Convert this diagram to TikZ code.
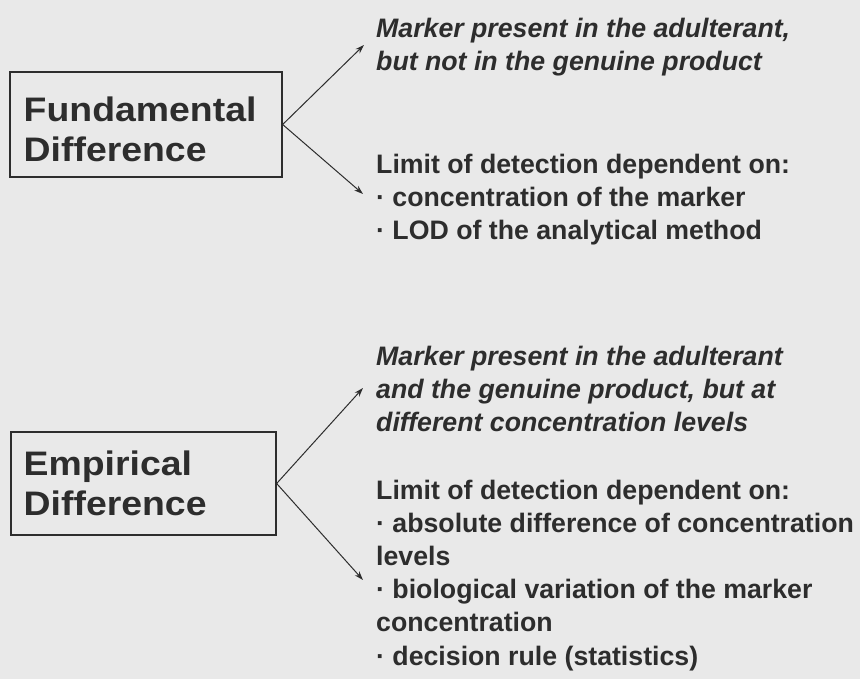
\documentclass[tikz,border=0pt]{standalone}
\usepackage{fontspec}
\usetikzlibrary{arrows.meta}
\setmainfont{Liberation Sans}
\newfontfamily\boxfont[FakeStretch=1.1]{Liberation Sans}
\definecolor{paper}{RGB}{233,233,233}
\definecolor{ink}{RGB}{45,45,45}
\tikzset{
    diffbox/.style={draw=ink, line width=1.3pt, inner sep=0pt},
    boxlabel/.style={anchor=north west, align=left, inner sep=0pt, text=ink,
        font=\boxfont\bfseries\fontsize{34}{40}\selectfont},
    notes/.style={anchor=north west, align=left, inner sep=0pt, text=ink,
        font=\bfseries\fontsize{26.7}{33.2}\selectfont},
    branch/.style={-{Stealth[length=9pt, width=6pt]}, draw=ink, line width=1pt},
}
\begin{document}
\begin{tikzpicture}[x=1pt, y=-1pt]
    \fill[paper] (0,0) rectangle (860,679);
    \useasboundingbox (0,0) rectangle (860,679);

    % fundamental difference
    \node[diffbox, minimum width=272pt, minimum height=105pt] (fundbox) at (146,124.5) {};
    \node[boxlabel] (fundlabel) at (23.5,96.5) {Fundamental\\Difference};
    \node[notes] (fundmarker) at (376,17.5) {\itshape Marker present in the adulterant,\\\itshape but not in the genuine product};
    \node[notes] (fundlimit) at (376,153.5) {Limit of detection dependent on:\\· concentration of the marker\\· LOD of the analytical method};
    \coordinate (fundup) at (364,45);
    \coordinate (funddown) at (363,194);
    \draw[branch] (fundbox.east) -- (fundup);
    \draw[branch] (fundbox.east) -- (funddown);

    % empirical difference
    \node[diffbox, minimum width=265pt, minimum height=103pt] (empbox) at (143.5,483.5) {};
    \node[boxlabel] (emplabel) at (23.5,450.5) {Empirical\\Difference};
    \node[notes] (empmarker) at (376,345.5) {\itshape Marker present in the adulterant\\\itshape and the genuine product, but at\\\itshape different concentration levels};
    \node[notes] (emplimit) at (376,479.5) {Limit of detection dependent on:\\· absolute difference of concentration\\levels\\· biological variation of the marker\\concentration\\· decision rule (statistics)};
    \coordinate (empup) at (363,388);
    \coordinate (empdown) at (363,580);
    \draw[branch] (empbox.east) -- (empup);
    \draw[branch] (empbox.east) -- (empdown);
\end{tikzpicture}
\end{document}
